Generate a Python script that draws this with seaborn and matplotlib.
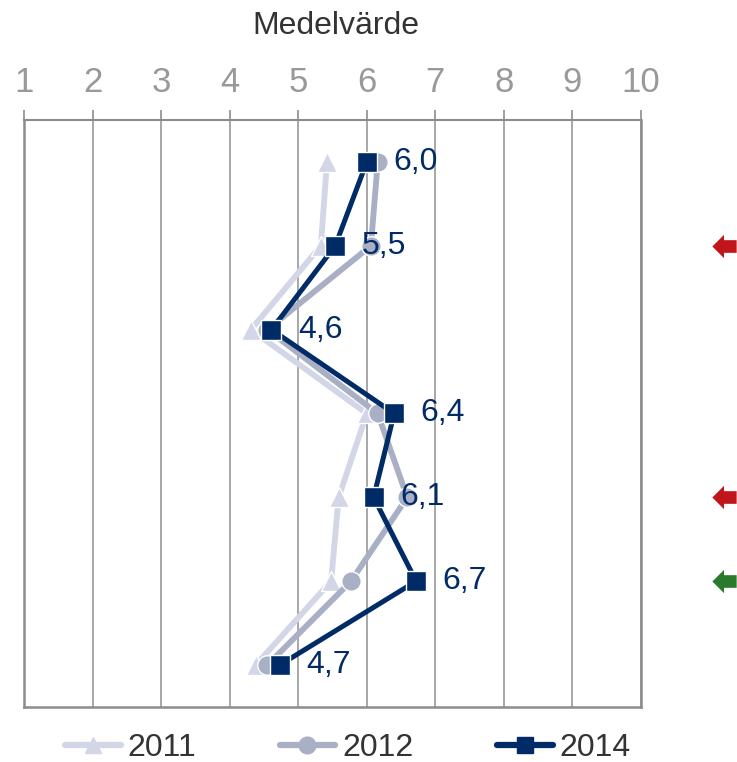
import numpy as np
import pandas as pd
import seaborn as sns
import matplotlib
matplotlib.use("Agg")
import matplotlib.pyplot as plt
from matplotlib.path import Path
from matplotlib.transforms import blended_transform_factory

sns.set_theme(style="white")
plt.rcParams['font.family'] = ['Liberation Sans', 'DejaVu Sans']

# ---- data ----
rows = [0, 1, 2, 3, 4, 5, 6]
years = ['2011', '2012', '2014']
v2011 = [5.42, 5.33, 4.31, 6.00, 5.59, 5.48, 4.38]
v2012 = [6.16, 6.06, 4.55, 6.16, 6.59, 5.77, 4.55]
v2014 = [6.00, 5.54, 4.61, 6.40, 6.10, 6.72, 4.73]
labels2014 = ['6,0', '5,5', '4,6', '6,4', '6,1', '6,7', '4,7']
trend = ['', 'down', '', '', 'down', 'up', '']
xticks = [1, 2, 3, 4, 5, 6, 7, 8, 9, 10]
title = 'Medelvärde'

colors = {'2011': '#D3D6E6', '2012': '#A9AFC4', '2014': '#002B66'}
markers = {'2011': '^', '2012': 'o', '2014': 's'}
values = {'2011': v2011, '2012': v2012, '2014': v2014}

fig = plt.figure(figsize=(7.37, 7.62), dpi=100)
ax = fig.add_axes([0.0326, 0.0722, 0.8371, 0.7703])

for z, yr in enumerate(years):
    df = pd.DataFrame({'x': values[yr], 'y': rows})
    sns.lineplot(data=df, x='x', y='y', sort=False, orient='y', ax=ax,
                 color=colors[yr], linewidth=4.2 if yr != '2014' else 3.6,
                 marker=markers[yr], markersize=15 if yr != '2012' else 14,
                 markeredgecolor='white', markeredgewidth=1.0,
                 label=yr, zorder=3 + z, legend=False)

for x, y, t in zip(v2014, rows, labels2014):
    ax.annotate(t, (x, y), xytext=(19, 0), textcoords='offset points',
                ha='left', va='center', fontsize=23, color='#002B66', zorder=10)

ax.set_xlim(1, 10)
ax.set_ylim(6.5, -0.5)
ax.set_xticks(xticks)
ax.set_xticklabels([str(t) for t in xticks])
ax.set_yticks([])
ax.xaxis.tick_top()
ax.tick_params(axis='x', which='both', top=True, bottom=False, length=7, width=1.2,
               color='#8C8C8C', direction='out', labelsize=25, labelcolor='#999999', pad=8)
ax.set_xlabel('')
ax.set_ylabel('')
ax.grid(axis='x', color='#A0A0A0', linewidth=1.3)
ax.grid(axis='y', visible=False)
for s in ax.spines.values():
    s.set_color('#8C8C8C')
    s.set_linewidth(1.8)
ax.spines['top'].set_linewidth(1.5)

fig.text(0.456, 0.966, title, ha='center', va='center', fontsize=23, color='#333333')

# trend arrows
arrow = Path([(-1, 0), (-0.04, 0.96), (-0.04, 0.52), (1, 0.52), (1, -0.52),
              (-0.04, -0.52), (-0.04, -0.96), (-1, 0)],
             [Path.MOVETO] + [Path.LINETO] * 6 + [Path.CLOSEPOLY])
trans = blended_transform_factory(ax.transAxes, ax.transData)
for y, t in zip(rows, trend):
    if t:
        c = '#C0161B' if t == 'down' else '#2A7A2E'
        ax.plot([1.135], [y], marker=arrow, markersize=17.5, color=c,
                markeredgewidth=0, transform=trans, clip_on=False, linestyle='none')

handles = [plt.Line2D([], [], color=colors[yr], linewidth=4.5, marker=markers[yr],
                      markersize=12, markeredgecolor=colors[yr],
                      solid_capstyle='round') for yr in years]
fig.legend(handles, years, loc='center', bbox_to_anchor=(0.472, 0.018), ncol=3,
           frameon=False, fontsize=23, handlelength=1.75, handletextpad=0.22,
           columnspacing=2.6, labelcolor='#333333')

fig.savefig('out.png', dpi=100)
